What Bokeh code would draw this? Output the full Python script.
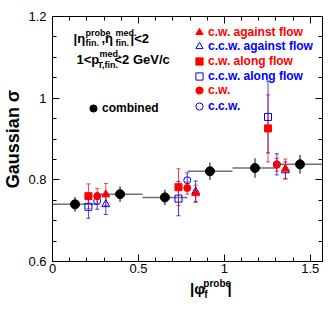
import math
from bokeh.plotting import figure
from bokeh.layouts import column
from bokeh.models import (ColumnDataSource, Whisker, TeeHead, Label, Legend, LegendItem,
                          LinearAxis, FixedTicker, Range1d)
from bokeh.embed import file_html
from bokeh.resources import INLINE

# ---------------- data ----------------
combined_phi = [0.131, 0.393, 0.654, 0.916, 1.178, 1.440]
combined_halfwidth = [0.131, 0.131, 0.131, 0.131, 0.131, 0.131]
combined_sigma = [0.740, 0.765, 0.757, 0.821, 0.829, 0.838]
combined_err = [0.018, 0.019, 0.019, 0.021, 0.024, 0.023]

along_phi = [0.209, 0.733, 1.254]
center_phi = [0.260, 0.784, 1.305]
against_phi = [0.310, 0.833, 1.355]

cw_against = [0.764, 0.767, 0.827]
cw_against_err = [0.027, 0.020, 0.024]
ccw_against = [0.740, 0.771, 0.823]
ccw_against_err = [0.025, 0.026, 0.021]
cw_along = [0.760, 0.782, 0.926]
cw_along_err = [0.030, 0.045, 0.082]
ccw_along = [0.734, 0.754, 0.954]
ccw_along_err = [0.028, 0.042, 0.088]
cw_all = [0.760, 0.780, 0.837]
cw_all_err = [0.019, 0.015, 0.016]
ccw_all = [0.748, 0.799, 0.838]
ccw_all_err = [0.020, 0.018, 0.026]

x_ticks = [0, 0.5, 1, 1.5]
x_tick_labels = {0: "0", 0.5: "0.5", 1: "1", 1.5: "1.5"}
y_ticks = [0.6, 0.8, 1, 1.2]
y_tick_labels = {0.6: "0.6", 0.8: "0.8", 1: "1", 1.2: "1.2"}

RED = "#ff0000"
BLUE = "#0000ff"
FONT = "Liberation Sans"

# ---------------- layout ----------------
W, H = 324, 278          # main figure
H2 = 22                  # strip under it for the x-axis title
BL, BR, BT, BB = 52, 2, 16, 17
XMIN, XMAX = 0.0, math.pi / 2
YMIN, YMAX = 0.6, 1.2
FW, FH = W - BL - BR, H - BT - BB


def px2x(px):
    return XMIN + (px - BL) * (XMAX - XMIN) / FW


def py2y(py):
    return YMAX - (py - BT) * (YMAX - YMIN) / FH


p = figure(width=W, height=H, output_backend="svg", toolbar_location=None,
           x_range=Range1d(XMIN, XMAX), y_range=Range1d(YMIN, YMAX),
           x_axis_type=None, y_axis_type=None,
           min_border_left=BL, min_border_right=BR, min_border_top=BT, min_border_bottom=BB)
p.outline_line_color = "black"
p.outline_line_width = 1
p.background_fill_color = "white"
p.border_fill_color = "white"

x_minor = [round(0.1 * i, 1) for i in range(16)]
y_minor = [round(0.6 + 0.05 * i, 2) for i in range(13)]


def make_axis(ticks, minor, labels, show_labels):
    ax = LinearAxis(ticker=FixedTicker(ticks=ticks, minor_ticks=minor))
    ax.axis_line_color = "black"
    ax.major_tick_line_color = "black"
    ax.minor_tick_line_color = "black"
    ax.major_tick_in = 7
    ax.major_tick_out = 0
    ax.minor_tick_in = 4
    ax.minor_tick_out = 0
    ax.major_label_overrides = labels
    ax.major_label_text_font = FONT
    if show_labels:
        ax.major_label_text_font_size = "13px"
        ax.major_label_text_color = "black"
    else:
        ax.major_label_text_font_size = "0px"
        ax.major_label_text_color = None
        ax.major_label_standoff = 0
    return ax


xb = make_axis(x_ticks, x_minor, x_tick_labels, True)
xb.major_label_standoff = 2
yl = make_axis(y_ticks, y_minor, y_tick_labels, True)
yl.major_label_standoff = 6
yl.axis_label = "Gaussian σ"
yl.axis_label_text_font = FONT
yl.axis_label_text_font_style = "bold"
yl.axis_label_text_font_size = "18px"
yl.axis_label_text_color = "black"
yl.axis_label_standoff = 2
xt = make_axis(x_ticks, x_minor, x_tick_labels, False)
yr = make_axis(y_ticks, y_minor, y_tick_labels, False)
p.add_layout(xb, "below")
p.add_layout(yl, "left")
p.add_layout(xt, "above")
p.add_layout(yr, "right")

# ---------------- combined ----------------
csrc = ColumnDataSource(dict(
    x=combined_phi, y=combined_sigma,
    x0=[a - h for a, h in zip(combined_phi, combined_halfwidth)],
    x1=[a + h for a, h in zip(combined_phi, combined_halfwidth)],
    lo=[a - e for a, e in zip(combined_sigma, combined_err)],
    hi=[a + e for a, e in zip(combined_sigma, combined_err)],
))
p.segment(x0="x0", x1="x1", y0="y", y1="y", source=csrc, line_color="#707070", line_width=1.5)
p.add_layout(Whisker(source=csrc, base="x", lower="lo", upper="hi", dimension="height",
                     line_color="black", line_width=1, upper_head=None, lower_head=None))


def series(xs, ys, errs, marker, color, filled, size):
    src = ColumnDataSource(dict(
        x=xs, y=ys,
        lo=[a - e for a, e in zip(ys, errs)],
        hi=[a + e for a, e in zip(ys, errs)],
    ))
    p.add_layout(Whisker(source=src, base="x", lower="lo", upper="hi", dimension="height",
                         line_color=color, line_width=1, line_alpha=0.75,
                         upper_head=TeeHead(size=4, line_color=color, line_alpha=0.75),
                         lower_head=TeeHead(size=4, line_color=color, line_alpha=0.75)))
    r = p.scatter("x", "y", source=src, marker=marker, size=size,
                  fill_color=color if filled else None, line_color=color, line_width=1)
    return r


r_ccw_along = series(along_phi, ccw_along, ccw_along_err, "square", BLUE, False, 7)
r_cw_along = series(along_phi, cw_along, cw_along_err, "square", RED, True, 7)
r_ccw = series(center_phi, ccw_all, ccw_all_err, "circle", BLUE, False, 7)
r_cw = series(center_phi, cw_all, cw_all_err, "circle", RED, True, 7)
r_ccw_against = series(against_phi, ccw_against, ccw_against_err, "triangle", BLUE, False, 8)
r_cw_against = series(against_phi, cw_against, cw_against_err, "triangle", RED, True, 8)

r_comb = p.scatter("x", "y", source=csrc, marker="circle", size=9,
                   fill_color="black", line_color="black")


def make_legend(items, color, top_px, spacing, left_px):
    n = len(items)
    height = n * 18 + (n - 1) * spacing
    loc = (left_px - BL, (H - BB) - (top_px + height))
    lg = Legend(items=[LegendItem(label=t, renderers=[r]) for t, r in items],
                location=loc, orientation="vertical",
                glyph_width=18, glyph_height=18, label_height=18, label_standoff=0,
                spacing=spacing, padding=0, margin=0,
                label_text_font=FONT, label_text_font_style="bold",
                label_text_font_size="12px", label_text_color=color,
                border_line_color=None, background_fill_alpha=0)
    p.add_layout(lg)


make_legend([("c.w. against flow", r_cw_against), ("c.w. along flow", r_cw_along),
             ("c.w.", r_cw)], RED, 22.7, 11, 190)
make_legend([("c.c.w. against flow", r_ccw_against), ("c.c.w. along flow", r_ccw_along),
             ("c.c.w.", r_ccw)], BLUE, 36.7, 12, 190)
make_legend([("combined", r_comb)], "black", 98.7, 0, 84)


def lab(px, py, text, size):
    p.add_layout(Label(x=px2x(px), y=py2y(py), text=text, x_units="data", y_units="data",
                       text_font=FONT, text_font_style="bold", text_font_size=size,
                       text_color="black", text_baseline="middle", text_align="left"))


# top-left annotation (positions in canvas pixels)
lab(73, 38, "|η", "13px")
lab(85, 32, "probe", "9px")
lab(85, 42, "fin.", "9px")
lab(101, 38, ",η", "13px")
lab(115, 32, "med.", "9px")
lab(115, 42, "fin.", "9px")
lab(130, 38, "|<2", "13px")

lab(76, 59, "1<p", "13px")
lab(99, 53, "med.", "9px")
lab(97, 64, "T,fin.", "9px")
lab(114, 59, "<2 GeV/c", "13px")

# ---------------- x-axis title strip ----------------
p2 = figure(width=W, height=H2, output_backend="svg", toolbar_location=None,
            x_range=Range1d(0, W), y_range=Range1d(0, H2),
            x_axis_type=None, y_axis_type=None,
            min_border_left=0, min_border_right=0, min_border_top=0, min_border_bottom=0)
p2.outline_line_color = None
p2.background_fill_color = "white"
p2.border_fill_color = "white"


def tlab(px, py, text, size):
    # px, py: pixels of the whole picture
    p2.add_layout(Label(x=px, y=(H + H2) - py, text=text, x_units="data", y_units="data",
                        text_font=FONT, text_font_style="bold", text_font_size=size,
                        text_color="black", text_baseline="middle", text_align="left"))


tlab(165, 288, "|φ", "15px")
tlab(181, 283, "probe", "10px")
tlab(182, 294, "f", "10px")
tlab(210, 288, "|", "15px")

layout = column(p, p2, spacing=0)
open("out.html", "w").write(file_html(layout, INLINE))
